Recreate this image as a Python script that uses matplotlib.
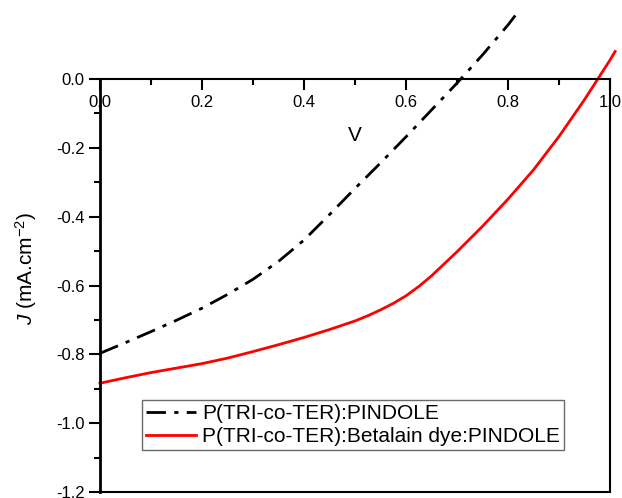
import matplotlib.pyplot as plt
from matplotlib.ticker import MultipleLocator, FormatStrFormatter

plt.rcParams['font.family'] = ['Liberation Sans', 'DejaVu Sans']
plt.rcParams['mathtext.fontset'] = 'custom'
plt.rcParams['mathtext.rm'] = 'Liberation Sans'
plt.rcParams['mathtext.it'] = 'Liberation Sans:italic'

# J-V curves
v_pindole = [0, 0.05, 0.1, 0.15, 0.2, 0.25, 0.3, 0.35, 0.4, 0.45, 0.5,
             0.55, 0.6, 0.65, 0.7, 0.75, 0.8, 0.815]
j_pindole = [-0.797, -0.766, -0.734, -0.701, -0.666, -0.626, -0.582, -0.530,
             -0.468, -0.394, -0.318, -0.244, -0.168, -0.090, -0.012, 0.070,
             0.157, 0.186]

v_betalain = [0, 0.05, 0.1, 0.15, 0.2, 0.25, 0.3, 0.35, 0.4, 0.45, 0.5,
              0.525, 0.55, 0.575, 0.6, 0.625, 0.65, 0.7, 0.75, 0.8, 0.85,
              0.9, 0.95, 1.0, 1.01]
j_betalain = [-0.884, -0.868, -0.853, -0.840, -0.827, -0.811, -0.792, -0.772,
              -0.751, -0.728, -0.703, -0.688, -0.671, -0.652, -0.630, -0.603,
              -0.572, -0.502, -0.428, -0.349, -0.264, -0.167, -0.060, 0.055,
              0.080]

labels = ['P(TRI-co-TER):PINDOLE', 'P(TRI-co-TER):Betalain dye:PINDOLE']

fig = plt.figure(figsize=(6.22, 4.98), dpi=100)
ax = fig.add_axes([100 / 622, 1 - 492 / 498, 510 / 622, 413 / 498])

ax.plot(v_pindole, j_pindole, color='black', lw=2,
        linestyle=(0, (7, 3, 1.5, 3)), clip_on=False, label=labels[0])
ax.plot(v_betalain, j_betalain, color='red', lw=2,
        clip_on=False, label=labels[1])

ax.set_xlim(0, 1.0)
ax.set_ylim(-1.2, 0.0)

# x ticks sit on the top spine, labels just below it
ax.xaxis.tick_top()
ax.xaxis.set_major_locator(MultipleLocator(0.2))
ax.xaxis.set_minor_locator(MultipleLocator(0.1))
ax.xaxis.set_major_formatter(FormatStrFormatter('%.1f'))
ax.tick_params(axis='x', which='both', direction='in', width=1.5,
               labelsize=12, pad=-22)
ax.tick_params(axis='x', which='major', length=8)
ax.tick_params(axis='x', which='minor', length=4)

ax.yaxis.set_major_locator(MultipleLocator(0.2))
ax.yaxis.set_minor_locator(MultipleLocator(0.1))
ax.yaxis.set_major_formatter(FormatStrFormatter('%.1f'))
ax.tick_params(axis='y', which='both', direction='out', width=1.5,
               labelsize=12, pad=3)
ax.tick_params(axis='y', which='major', length=8)
ax.tick_params(axis='y', which='minor', length=4)

for s in ax.spines.values():
    s.set_linewidth(1.5)
ax.spines['left'].set_linewidth(2)

ax.set_xlabel('V', fontsize=15)
ax.xaxis.set_label_position('top')
ax.xaxis.set_label_coords(0.5, 0.85)
ax.set_ylabel(r'$J$ (mA.cm$^{-2}$)', fontsize=15)
ax.yaxis.set_label_coords(-0.12, 0.542)

leg = ax.legend(loc='upper left', bbox_to_anchor=((142 - 100) / 510, 1 - (400 - 79) / 413),
                fontsize=15, frameon=True, fancybox=False, handlelength=2.4,
                borderpad=0.2, labelspacing=0.2, handletextpad=0.3,
                borderaxespad=0)
leg.get_frame().set_edgecolor('#444444')
leg.get_frame().set_linewidth(1)

fig.savefig('out.png', dpi=100)
